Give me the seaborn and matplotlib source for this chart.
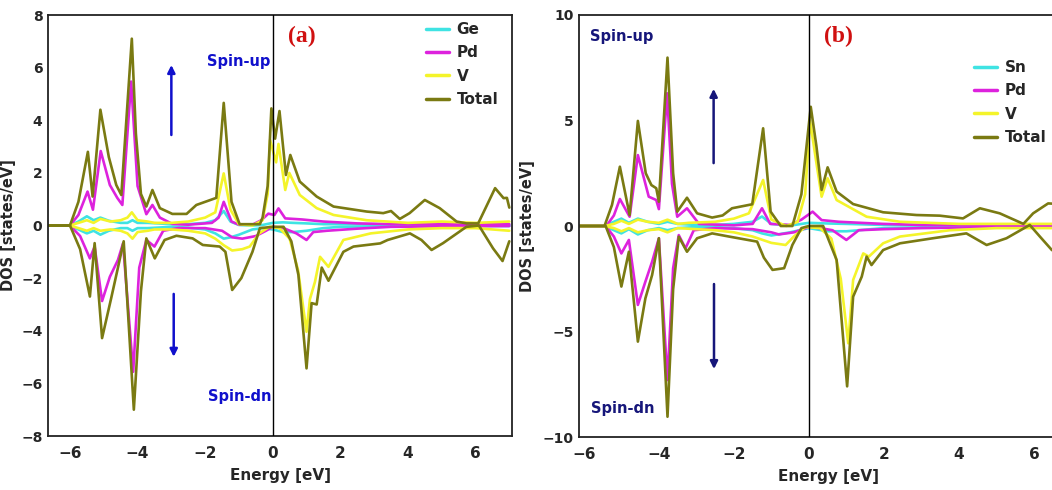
import numpy as np
import pandas as pd
import seaborn as sns
import matplotlib
matplotlib.use("Agg")
import matplotlib.pyplot as plt

# ---------------- data ----------------
# Panel (a): Ge / Pd / V
a_total_up_e = [-6.65, -6.0, -5.75, -5.47, -5.33, -5.1, -4.85, -4.63, -4.48, -4.17, -4.05, -3.9, -3.74, -3.56, -3.34, -2.97, -2.55, -2.26, -1.67, -1.45, -1.22, -0.98, -0.38, -0.3, -0.15, -0.04, 0.07, 0.2, 0.39, 0.52, 0.8, 1.3, 1.8, 2.78, 3.27, 3.5, 3.76, 4.05, 4.5, 4.94, 5.44, 5.73, 6.08, 6.58, 6.83, 6.93, 7.0]
a_total_up = [0, 0, 0.9, 2.8, 1.1, 4.4, 2.6, 1.54, 1.16, 7.1, 3.5, 1.2, 0.72, 1.35, 0.66, 0.44, 0.44, 0.78, 1.05, 4.66, 0.9, 0.05, 0.05, 0.3, 1.5, 4.45, 3.3, 4.35, 1.92, 2.68, 1.67, 1.1, 0.72, 0.53, 0.47, 0.55, 0.25, 0.47, 0.97, 0.66, 0.15, 0.08, 0.08, 1.42, 1.04, 1.05, 0.68]
a_total_dn_e = [-6.65, -6.0, -5.7, -5.41, -5.27, -5.05, -4.78, -4.58, -4.41, -4.11, -3.9, -3.74, -3.49, -3.2, -2.85, -2.37, -2.07, -1.57, -1.4, -1.2, -0.93, -0.6, -0.38, 0.0, 0.32, 0.55, 0.76, 1.0, 1.15, 1.3, 1.45, 1.65, 2.09, 2.39, 3.18, 3.4, 4.06, 4.4, 4.7, 5.04, 5.73, 6.1, 6.52, 6.8, 7.0]
a_total_dn = [0, 0, -0.9, -2.7, -0.67, -4.28, -2.76, -1.6, -0.6, -7.0, -2.5, -0.49, -1.25, -0.55, -0.39, -0.49, -0.74, -0.8, -1.0, -2.45, -2.0, -1.0, -0.1, -0.05, -0.05, -0.6, -1.88, -5.43, -2.95, -3.0, -1.6, -2.1, -1.0, -0.8, -0.68, -0.55, -0.3, -0.55, -0.93, -0.67, -0.05, 0.0, -0.87, -1.35, -0.6]

a_pd_up_e = [-6.65, -6.0, -5.75, -5.48, -5.32, -5.09, -4.82, -4.6, -4.45, -4.19, -4.0, -3.74, -3.56, -3.34, -2.97, -2.5, -1.8, -1.6, -1.45, -1.22, -1.0, -0.6, -0.34, -0.13, 0.05, 0.17, 0.37, 0.86, 1.5, 2.5, 3.5, 5.0, 7.0]
a_pd_up = [0, 0, 0.4, 1.29, 0.6, 2.83, 1.54, 1.05, 0.78, 5.47, 1.5, 0.43, 0.78, 0.3, 0.06, 0.03, 0.1, 0.3, 0.9, 0.15, 0.03, 0.03, 0.2, 0.45, 0.4, 0.65, 0.27, 0.23, 0.15, 0.08, 0.05, 0.05, 0.05]
a_pd_dn_e = [-6.65, -6.0, -5.7, -5.41, -5.27, -5.05, -4.82, -4.58, -4.43, -4.13, -3.95, -3.74, -3.5, -3.24, -2.8, -2.0, -1.5, -1.2, -0.9, -0.5, -0.2, 0.0, 0.32, 0.7, 1.0, 1.2, 1.6, 2.5, 3.5, 5.0, 7.0]
a_pd_dn = [0, 0, -0.4, -1.25, -0.8, -2.87, -1.95, -1.31, -0.68, -5.56, -1.6, -0.55, -0.8, -0.2, -0.1, -0.1, -0.2, -0.45, -0.5, -0.4, -0.2, -0.05, -0.1, -0.3, -0.55, -0.25, -0.2, -0.12, -0.05, -0.03, -0.02]

a_v_up_e = [-6.65, -6.0, -5.75, -5.5, -5.3, -5.1, -4.8, -4.5, -4.3, -4.17, -4.0, -3.7, -3.5, -3.0, -2.5, -2.0, -1.7, -1.45, -1.25, -1.0, -0.6, -0.3, -0.15, -0.08, 0.1, 0.17, 0.37, 0.49, 0.8, 1.3, 1.8, 2.78, 4.0, 5.0, 6.0, 7.0]
a_v_up = [0, 0, 0.1, 0.2, 0.1, 0.25, 0.15, 0.2, 0.3, 0.5, 0.2, 0.15, 0.1, 0.1, 0.15, 0.3, 0.5, 1.98, 0.6, 0.05, 0.0, 0.2, 1.2, 3.25, 2.4, 3.1, 1.35, 2.0, 1.16, 0.66, 0.4, 0.2, 0.1, 0.15, 0.1, 0.15]
a_v_dn_e = [-6.65, -6.0, -5.75, -5.5, -5.3, -5.1, -4.8, -4.5, -4.3, -4.15, -4.0, -3.7, -3.5, -3.0, -2.5, -2.0, -1.7, -1.45, -1.2, -0.9, -0.68, -0.4, -0.1, 0.2, 0.5, 0.75, 1.0, 1.1, 1.25, 1.4, 1.65, 2.09, 2.9, 4.0, 5.0, 6.0, 7.0]
a_v_dn = [0, 0, -0.1, -0.2, -0.1, -0.2, -0.15, -0.2, -0.3, -0.5, -0.25, -0.2, -0.15, -0.15, -0.2, -0.3, -0.5, -0.75, -0.95, -0.9, -0.8, -0.3, -0.05, -0.1, -0.5, -1.7, -4.04, -2.8, -2.14, -1.19, -1.57, -0.55, -0.3, -0.15, -0.1, -0.1, -0.2]

a_ge_e = [-6.65, -6.0, -5.75, -5.5, -5.3, -5.1, -4.85, -4.5, -4.3, -4.15, -4.0, -3.7, -3.4, -3.0, -2.5, -2.0, -1.7, -1.45, -1.25, -1.0, -0.6, -0.3, 0.0, 0.3, 0.6, 1.0, 1.5, 2.0, 3.0, 4.0, 5.0, 6.0, 7.0]
a_ge_up = [0, 0, 0.15, 0.35, 0.2, 0.3, 0.18, 0.1, 0.1, 0.2, 0.1, 0.1, 0.08, 0.05, 0.05, 0.1, 0.2, 0.55, 0.15, 0.02, 0.0, 0.02, 0.1, 0.12, 0.1, 0.08, 0.05, 0.05, 0.05, 0.03, 0.02, 0.02, 0.02]
a_ge_dn = [0, 0, -0.15, -0.3, -0.2, -0.35, -0.2, -0.1, -0.1, -0.2, -0.1, -0.1, -0.08, -0.05, -0.08, -0.15, -0.3, -0.5, -0.45, -0.35, -0.15, -0.1, -0.15, -0.25, -0.25, -0.2, -0.1, -0.05, -0.03, -0.02, -0.02, -0.02, -0.02]

# Panel (b): Sn / Pd / V
b_total_up_e = [-6.2, -5.45, -5.25, -5.04, -4.78, -4.56, -4.35, -4.2, -4.07, -4.0, -3.77, -3.62, -3.51, -3.25, -2.98, -2.58, -2.3, -2.05, -1.51, -1.22, -1.02, -0.75, -0.44, -0.2, 0.05, 0.2, 0.34, 0.5, 0.74, 1.18, 1.98, 2.87, 3.49, 4.11, 4.56, 5.09, 5.72, 5.98, 6.38, 6.6, 7.0]
b_total_up = [0, 0, 1.0, 2.81, 0.52, 4.98, 2.5, 1.94, 1.79, 1.15, 7.98, 2.5, 0.68, 1.34, 0.6, 0.4, 0.5, 0.84, 1.03, 4.63, 0.68, 0.0, 0.0, 1.5, 5.65, 3.8, 1.71, 2.78, 1.63, 1.04, 0.65, 0.52, 0.49, 0.36, 0.84, 0.6, 0.1, 0.6, 1.07, 1.05, 1.0]
b_total_dn_e = [-6.2, -5.42, -5.2, -5.0, -4.8, -4.56, -4.36, -4.18, -4.0, -3.77, -3.62, -3.47, -3.25, -2.98, -2.58, -2.13, -1.38, -1.2, -0.97, -0.66, -0.44, -0.2, 0.0, 0.38, 0.74, 1.02, 1.18, 1.41, 1.54, 1.67, 1.98, 2.43, 3.31, 4.2, 4.74, 5.27, 5.89, 6.16, 6.48, 7.0]
b_total_dn = [0, 0, -1.0, -2.87, -1.22, -5.48, -3.43, -2.32, -0.58, -9.04, -3.0, -0.51, -1.22, -0.58, -0.35, -0.5, -0.74, -1.5, -2.08, -2.0, -0.9, -0.1, 0.0, 0.0, -1.61, -7.6, -3.35, -2.4, -1.45, -1.85, -1.14, -0.82, -0.58, -0.35, -0.9, -0.58, 0.05, -0.5, -1.14, -1.5]

b_pd_up_e = [-6.2, -5.4, -5.2, -5.04, -4.78, -4.56, -4.27, -4.07, -4.0, -3.78, -3.65, -3.51, -3.25, -2.93, -2.0, -1.5, -1.25, -1.03, -0.5, -0.2, 0.1, 0.34, 0.8, 1.98, 3.0, 5.0, 7.0]
b_pd_up = [0, 0, 0.5, 1.28, 0.44, 3.36, 1.39, 1.23, 0.8, 6.29, 2.0, 0.44, 0.84, 0.1, 0.03, 0.1, 0.84, 0.1, 0.05, 0.3, 0.68, 0.28, 0.2, 0.1, 0.05, 0.05, 0.05]
b_pd_dn_e = [-6.2, -5.42, -5.2, -5.0, -4.8, -4.56, -4.36, -4.18, -4.0, -3.77, -3.62, -3.47, -3.29, -3.07, -2.5, -1.5, -1.0, -0.8, -0.4, 0.0, 0.3, 0.63, 1.0, 1.33, 2.0, 3.0, 5.0, 7.0]
b_pd_dn = [0, 0, -0.5, -1.3, -0.66, -3.74, -2.64, -1.69, -0.58, -7.3, -2.0, -0.43, -1.06, -0.2, -0.1, -0.15, -0.3, -0.4, -0.3, -0.05, -0.1, -0.2, -0.66, -0.2, -0.15, -0.1, -0.05, -0.03]

b_v_up_e = [-6.2, -5.45, -5.2, -5.0, -4.8, -4.56, -4.3, -4.0, -3.77, -3.5, -3.2, -2.5, -2.0, -1.6, -1.22, -1.0, -0.6, -0.3, -0.1, 0.03, 0.2, 0.34, 0.5, 0.74, 1.54, 2.43, 4.0, 5.5, 7.0]
b_v_up = [0, 0, 0.1, 0.25, 0.1, 0.3, 0.2, 0.15, 0.3, 0.1, 0.15, 0.2, 0.35, 0.6, 2.18, 0.3, 0.0, 0.2, 1.5, 5.0, 3.0, 1.39, 2.26, 1.23, 0.44, 0.2, 0.1, 0.1, 0.1]
b_v_dn_e = [-6.2, -5.45, -5.2, -5.0, -4.8, -4.56, -4.3, -4.0, -3.77, -3.5, -3.0, -2.5, -2.0, -1.5, -1.0, -0.62, -0.4, -0.1, 0.3, 0.6, 0.85, 1.05, 1.18, 1.45, 1.6, 1.98, 2.43, 3.76, 5.0, 7.0]
b_v_dn = [0, 0, -0.1, -0.25, -0.1, -0.3, -0.2, -0.15, -0.3, -0.1, -0.15, -0.2, -0.3, -0.5, -0.8, -0.9, -0.5, -0.05, -0.1, -0.6, -2.5, -5.56, -2.56, -1.3, -1.45, -0.82, -0.5, -0.2, -0.1, -0.1]

b_sn_e = [-6.2, -5.45, -5.2, -5.0, -4.8, -4.56, -4.3, -4.0, -3.77, -3.5, -3.0, -2.5, -2.0, -1.5, -1.25, -1.0, -0.5, 0.0, 0.5, 1.0, 2.0, 4.0, 7.0]
b_sn_up = [0, 0, 0.2, 0.35, 0.15, 0.35, 0.2, 0.1, 0.2, 0.1, 0.05, 0.05, 0.1, 0.2, 0.45, 0.1, 0.02, 0.15, 0.12, 0.1, 0.05, 0.03, 0.02]
b_sn_dn = [0, 0, -0.2, -0.35, -0.15, -0.4, -0.2, -0.1, -0.2, -0.1, -0.05, -0.05, -0.1, -0.2, -0.35, -0.45, -0.3, -0.1, -0.25, -0.25, -0.1, -0.03, -0.02]

labels_a = ["Ge", "Pd", "V", "Total"]
labels_b = ["Sn", "Pd", "V", "Total"]
x_ticks = [-6, -4, -2, 0, 2, 4, 6]
y_ticks_a = [-8, -6, -4, -2, 0, 2, 4, 6, 8]
y_ticks_b = [-10, -5, 0, 5, 10]

# ---------------- styling ----------------
sns.set_theme(style="white")
plt.rcParams["font.family"] = ["DejaVu Sans"]
plt.rcParams["font.weight"] = "bold"
plt.rcParams["axes.labelweight"] = "bold"

C_ATOM = "#3fe3e3"
C_PD = "#dd22dd"
C_V = "#f4f42a"
C_TOT = "#7a7a12"
colors = [C_ATOM, C_PD, C_V, C_TOT]
LW = 1.9

fig = plt.figure(figsize=(10.52, 4.90), dpi=100)
axA = fig.add_axes([48 / 1052, 1 - 436 / 490, 464 / 1052, 421 / 490])
axB = fig.add_axes([579 / 1052, 1 - 437 / 490, 498 / 1052, 422 / 490])


def draw(ax, curves, labels):
    for (e_up, d_up, e_dn, d_dn), col, lab in zip(curves, colors, labels):
        df_up = pd.DataFrame({"E": e_up, "DOS": d_up})
        df_dn = pd.DataFrame({"E": e_dn, "DOS": d_dn})
        sns.lineplot(data=df_up, x="E", y="DOS", ax=ax, color=col, lw=LW,
                     estimator=None, sort=False, label=lab)
        sns.lineplot(data=df_dn, x="E", y="DOS", ax=ax, color=col, lw=LW,
                     estimator=None, sort=False, label="_nolegend_")
    ax.axvline(0, color="black", lw=1.0, zorder=5)
    for s in ax.spines.values():
        s.set_color("#222222")
        s.set_linewidth(1.3)
    ax.set_xlabel("Energy [eV]", fontsize=11, fontweight="bold", labelpad=5)
    ax.set_ylabel("DOS [states/eV]", fontsize=10.5, fontweight="bold")
    ax.set_xticks(x_ticks)
    ax.tick_params(axis="x", labelsize=11, length=2, width=1, direction="out", pad=5)
    ax.tick_params(axis="y", labelsize=10, length=2, width=1, direction="out", pad=2)
    for t in ax.get_xticklabels() + ax.get_yticklabels():
        t.set_fontweight("bold")


curves_a = [
    (a_ge_e, a_ge_up, a_ge_e, a_ge_dn),
    (a_pd_up_e, a_pd_up, a_pd_dn_e, a_pd_dn),
    (a_v_up_e, a_v_up, a_v_dn_e, a_v_dn),
    (a_total_up_e, a_total_up, a_total_dn_e, a_total_dn),
]
curves_b = [
    (b_sn_e, b_sn_up, b_sn_e, b_sn_dn),
    (b_pd_up_e, b_pd_up, b_pd_dn_e, b_pd_dn),
    (b_v_up_e, b_v_up, b_v_dn_e, b_v_dn),
    (b_total_up_e, b_total_up, b_total_dn_e, b_total_dn),
]

draw(axA, curves_a, labels_a)
draw(axB, curves_b, labels_b)

axA.set_xlim(-6.65, 7.08)
axA.set_ylim(-8, 8)
axA.set_yticks(y_ticks_a)
axB.set_xlim(-6.13, 7.15)
axB.set_ylim(-10, 10)
axB.set_yticks(y_ticks_b)

axA.yaxis.set_label_coords(-0.069, 0.5)
axB.yaxis.set_label_coords(-0.088, 0.5)

leg_kw = dict(frameon=False, fontsize=11, handlelength=1.5, handletextpad=0.5,
              labelspacing=0.55, borderpad=0, borderaxespad=0, loc="upper left",
              bbox_transform=fig.transFigure)
la = axA.legend(bbox_to_anchor=(426 / 1052, 1 - 22 / 490), **leg_kw)
lb = axB.legend(bbox_to_anchor=(974 / 1052, 1 - 60 / 490), **leg_kw)
for lg in (la, lb):
    for h in lg.get_lines():
        h.set_linewidth(2.5)
    for t in lg.get_texts():
        t.set_fontweight("bold")

# panel tags
axA.text(0.86, 7.17, "(a)", color="#d01010", fontsize=17, fontweight="bold",
         family=["Liberation Serif", "DejaVu Serif"], ha="center", va="center")
axB.text(0.8, 8.96, "(b)", color="#d01010", fontsize=17, fontweight="bold",
         family=["Liberation Serif", "DejaVu Serif"], ha="center", va="center")

# spin annotations
BLUE = "#1010cc"
NAVY = "#16167a"
axA.text(-1.0, 6.23, "Spin-up", color=BLUE, fontsize=10.5, fontweight="bold", ha="center", va="center")
axA.text(-0.98, -6.5, "Spin-dn", color=BLUE, fontsize=10.5, fontweight="bold", ha="center", va="center")
axB.text(-4.99, 8.97, "Spin-up", color=NAVY, fontsize=10.5, fontweight="bold", ha="center", va="center")
axB.text(-4.97, -8.63, "Spin-dn", color=NAVY, fontsize=10.5, fontweight="bold", ha="center", va="center")

arr = dict(arrowstyle="-|>", lw=1.8, mutation_scale=11, shrinkA=0, shrinkB=0)
axA.annotate("", xy=(-3.0, 6.1), xytext=(-3.0, 3.44), arrowprops=dict(color=BLUE, **arr))
axA.annotate("", xy=(-2.93, -4.99), xytext=(-2.93, -2.6), arrowprops=dict(color=BLUE, **arr))
axB.annotate("", xy=(-2.54, 6.5), xytext=(-2.54, 2.98), arrowprops=dict(color=NAVY, **arr))
axB.annotate("", xy=(-2.53, -6.78), xytext=(-2.53, -2.75), arrowprops=dict(color=NAVY, **arr))

fig.savefig("out.png", dpi=100)
